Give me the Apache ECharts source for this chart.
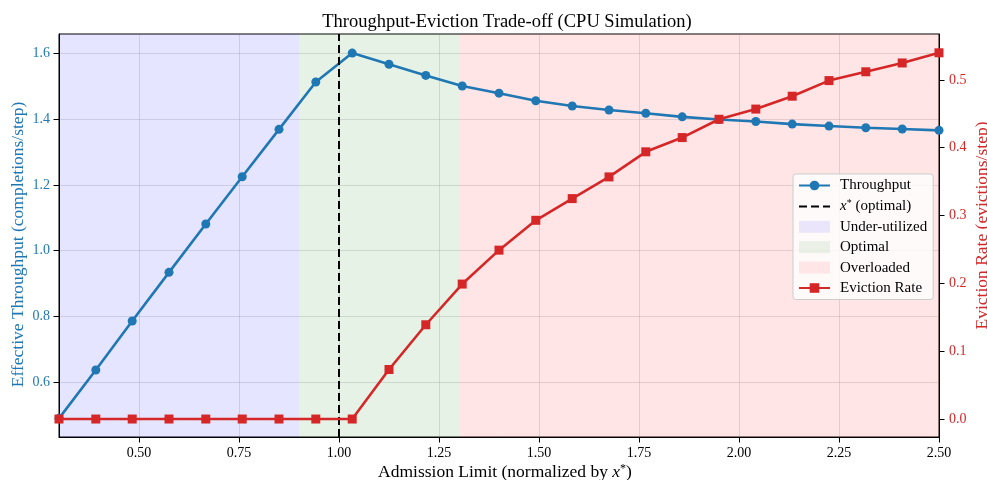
<!DOCTYPE html>
<html>
<head>
<meta charset="utf-8">
<script src="https://cdn.jsdelivr.net/npm/echarts@6/dist/echarts.min.js"></script>
<style>html,body{margin:0;padding:0;background:#fff}#c{width:987px;height:480px}</style>
</head>
<body>
<div id="c"></div>
<script>
// ---- data ----
const xValues = [0.3, 0.392, 0.483, 0.575, 0.667, 0.758, 0.85, 0.942, 1.033, 1.125, 1.217, 1.308, 1.4,
                 1.492, 1.583, 1.675, 1.767, 1.858, 1.95, 2.042, 2.133, 2.225, 2.317, 2.408, 2.5];
const throughput = [0.490, 0.637, 0.786, 0.934, 1.081, 1.225, 1.369, 1.513, 1.601, 1.567, 1.533, 1.501, 1.479,
                    1.456, 1.440, 1.428, 1.418, 1.407, 1.399, 1.393, 1.385, 1.379, 1.374, 1.370, 1.366];
const evictionRate = [0, 0, 0, 0, 0, 0, 0, 0, 0, 0.073, 0.139, 0.199, 0.249,
                      0.293, 0.325, 0.357, 0.394, 0.415, 0.442, 0.457, 0.476, 0.499, 0.512, 0.525, 0.540];
const xTicks = [0.5, 0.75, 1.0, 1.25, 1.5, 1.75, 2.0, 2.25, 2.5];
const leftTicks = [0.6, 0.8, 1.0, 1.2, 1.4, 1.6];
const rightTicks = [0.0, 0.1, 0.2, 0.3, 0.4, 0.5];
const xStar = 1.0;
const regionNames = ['Under-utilized', 'Optimal', 'Overloaded'];
const regionStart = [0.3, 0.9, 1.3];
const regionEnd = [0.9, 1.3, 2.5];

// ---- style ----
const BLUE = '#1f77b4', RED = '#d62728';
const regionColors = ['rgba(0,0,255,0.1)', 'rgba(0,128,0,0.1)', 'rgba(255,0,0,0.1)'];
const FONT = '"Liberation Serif", "Times New Roman", serif';
const NAME_SIZE = 17.5;

const chart = echarts.init(document.getElementById('c'), null, {renderer: 'canvas'});

const regionSeries = regionNames.map((name, i) => ({
  name: name,
  type: 'scatter',
  data: [],
  symbol: 'rect',
  itemStyle: {color: regionColors[i]},
  markArea: {
    silent: true,
    itemStyle: {color: regionColors[i]},
    data: [[{xAxis: regionStart[i]}, {xAxis: regionEnd[i]}]]
  },
  z: 1
}));

const option = {
  animation: false,
  backgroundColor: '#fff',
  textStyle: {fontFamily: FONT},
  title: {
    text: 'Throughput-Eviction Trade-off (CPU Simulation)',
    left: 502, top: 8, textAlign: 'center',
    textStyle: {fontFamily: FONT, fontSize: 18.5, fontWeight: 'normal', color: '#000'}
  },
  grid: {left: 59, right: 48, top: 34, bottom: 43, show: true, borderColor: '#000', borderWidth: 1,
         backgroundColor: 'transparent', outerBoundsMode: 'none', containLabel: false},
  legend: {
    orient: 'vertical',
    left: 793, top: 174,
    padding: [4, 6, 4, 5],
    itemWidth: 31, itemHeight: 12, itemGap: 5.4,
    backgroundColor: 'rgba(255,255,255,0.8)',
    borderColor: '#cccccc', borderWidth: 1, borderRadius: 3,
    textStyle: {fontFamily: FONT, fontSize: 15, color: '#000', padding: [0, 0, 0, 5],
      rich: {i: {fontFamily: FONT, fontStyle: 'italic', fontSize: 15}, s: {fontFamily: FONT, fontSize: 10, verticalAlign: 'top', padding: [0, 0, 6, 0]}}},
    formatter: function (n) { return n === 'xstar' ? '{i|x}{s|*} (optimal)' : n; },
    data: ['Throughput', 'xstar', 'Under-utilized', 'Optimal', 'Overloaded', 'Eviction Rate'],
    selectedMode: false
  },
  xAxis: {
    type: 'value', min: 0.3, max: 2.5,
    name: '{t|Admission Limit (normalized by }{i|x}{s|*}{t|)}',
    nameLocation: 'middle', nameGap: 26, nameMoveOverlap: false,
    nameTextStyle: {fontFamily: FONT, fontSize: NAME_SIZE, color: '#000', padding: [0, 0, 0, 12],
      rich: {t: {fontFamily: FONT, fontSize: NAME_SIZE}, i: {fontFamily: FONT, fontStyle: 'italic', fontSize: NAME_SIZE}, s: {fontFamily: FONT, fontSize: 12, verticalAlign: 'top', padding: [0, 0, 7, 0]}}},
    axisLine: {show: true, onZero: false, lineStyle: {color: '#000', width: 1}},
    axisTick: {show: true, length: 5.5, lineStyle: {color: '#000'}, customValues: xTicks},
    axisLabel: {customValues: xTicks, formatter: v => v.toFixed(2), fontFamily: FONT, fontSize: 14, color: '#000', margin: 9},
    splitLine: {show: true, lineStyle: {color: 'rgba(128,128,128,0.22)', width: 1}}
  },
  yAxis: [{
    type: 'value', min: 0.4333, max: 1.659, position: 'left',
    name: 'Effective Throughput (completions/step)',
    nameLocation: 'middle', nameGap: 32, nameMoveOverlap: false,
    nameTextStyle: {fontFamily: FONT, fontSize: NAME_SIZE, color: BLUE, padding: [0, 18, 0, 0]},
    axisLine: {show: true, onZero: false, lineStyle: {color: '#000'}},
    axisTick: {show: true, length: 5.5, lineStyle: {color: '#000'}, customValues: leftTicks},
    axisLabel: {customValues: leftTicks, formatter: v => v.toFixed(1), fontFamily: FONT, fontSize: 14, color: BLUE, margin: 9},
    splitLine: {show: true, lineStyle: {color: 'rgba(128,128,128,0.22)', width: 1}}
  }, {
    type: 'value', min: -0.0265, max: 0.5677, position: 'right',
    name: 'Eviction Rate (evictions/step)',
    nameLocation: 'middle', nameGap: 34, nameMoveOverlap: false,
    nameTextStyle: {fontFamily: FONT, fontSize: NAME_SIZE, color: RED, padding: [0, 0, 0, 20]},
    axisLine: {show: true, onZero: false, lineStyle: {color: '#000'}},
    axisTick: {show: true, length: 5.5, lineStyle: {color: '#000'}, customValues: rightTicks},
    axisLabel: {customValues: rightTicks, formatter: v => v.toFixed(1), fontFamily: FONT, fontSize: 14, color: RED, margin: 10},
    splitLine: {show: false}
  }],
  series: [
    ...regionSeries,
    {
      name: 'xstar', type: 'line', data: [], symbol: 'none',
      lineStyle: {color: '#000', width: 2, type: [8, 4]},
      itemStyle: {color: 'rgba(0,0,0,0)'},
      markLine: {silent: true, symbol: 'none', label: {show: false},
        lineStyle: {color: '#000', width: 2, type: [8, 4]},
        data: [{xAxis: xStar}]},
      z: 3
    },
    {
      name: 'Throughput', type: 'line', yAxisIndex: 0,
      data: xValues.map((x, i) => [x, throughput[i]]),
      symbol: 'circle', symbolSize: 9,
      lineStyle: {color: BLUE, width: 2.6}, itemStyle: {color: BLUE},
      clip: true, z: 4
    },
    {
      name: 'Eviction Rate', type: 'line', yAxisIndex: 1,
      data: xValues.map((x, i) => [x, evictionRate[i]]),
      symbol: 'rect', symbolSize: 9,
      lineStyle: {color: RED, width: 2.6}, itemStyle: {color: RED},
      clip: true, z: 5
    }
  ]
};
chart.setOption(option);
</script>
</body>
</html>
